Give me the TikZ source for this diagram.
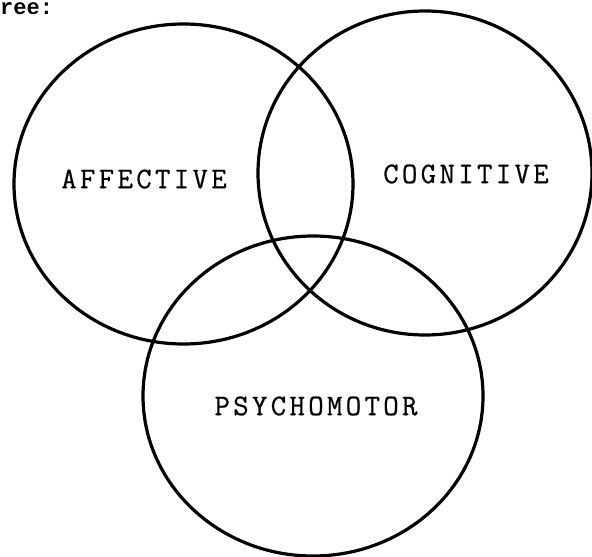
\documentclass[tikz,border=0pt]{standalone}
\usepackage{fontspec}
\setmonofont{Liberation Mono}
\newfontfamily\typefont[LetterSpace=11,FakeBold=0.6]{Latin Modern Mono}
\begin{document}
\begin{tikzpicture}[x=1pt,y=-1pt,
  ring/.style={draw=black,line width=3.2pt},
  label/.style={font=\typefont\fontsize{30}{30}\selectfont,inner sep=0pt},
  head/.style={font=\ttfamily\bfseries\fontsize{22}{22}\selectfont,inner sep=0pt,anchor=base west}]
\useasboundingbox (0,0) rectangle (592,557);
\clip (0,0) rectangle (592,557);
\fill[white] (0,0) rectangle (592,557);
\draw[ring] (183.5,184) ellipse [x radius=169.5, y radius=160];
\draw[ring] (425,173) ellipse [x radius=167, y radius=162];
\draw[ring] (313,396) ellipse [x radius=170, y radius=160];
\node[label] (aff) at (144,179) {AFFECTIVE};
\node[label] (cog) at (466,174) {COGNITIVE};
\node[label] (psy) at (316,406) {PSYCHOMOTOR};
\node[head] (hdr) at (0,14) {ree:};
\end{tikzpicture}
\end{document}
